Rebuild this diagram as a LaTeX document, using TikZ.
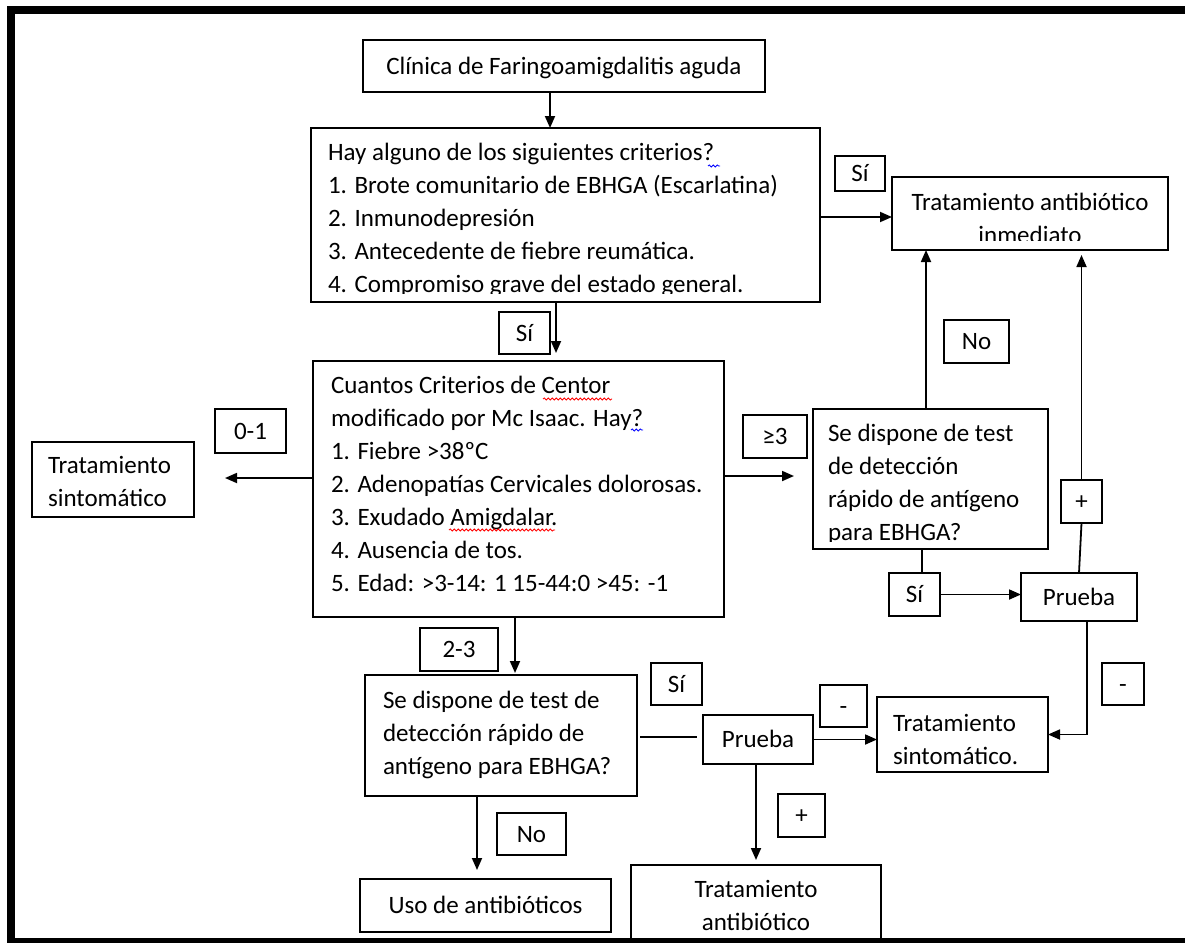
\documentclass[tikz,border=0pt]{standalone}
\usepackage{fontspec}
\setmainfont{Carlito}
\usetikzlibrary{arrows.meta,fit,decorations.pathmorphing}

\begin{document}
\begin{tikzpicture}[x=1pt,y=-1pt,
  every node/.style={font=\fontsize{25}{33}\selectfont},
  box/.style={draw,line width=1.9pt,inner sep=0pt,outer sep=0pt},
  lbl/.style={box,text height=18pt,text depth=2pt},
  tx/.style={inner sep=0pt,outer sep=0pt},
  arr/.style={line width=1.8pt,-{Triangle[length=12pt,width=10pt]}},
  ln/.style={line width=1.8pt},
  squig/.style={line width=0.8pt,decorate,decoration={snake,amplitude=1.1pt,segment length=4pt}}
]
\useasboundingbox[fill=white] (0,0) rectangle (1185,943);

% ---------- boxes ----------
\node[lbl,minimum width=402pt,minimum height=52pt] (clin) at (564,66) {Clínica de Faringoamigdalitis aguda};

\node[box,fit={(311,128)(820,302)}] (hay) {};
\begin{scope}
\clip (311,128) rectangle (820,293);
\node[tx,anchor=base west] (hayt) at (328,160) {\begin{tabular}[t]{@{}l@{}}Hay alguno de los siguientes criterios?\\1. Brote comunitario de EBHGA (Escarlatina)\\2. Inmunodepresión\\3. Antecedente de fiebre reumática.\\4. Compromiso grave del estado general.\end{tabular}};
\end{scope}

\node[lbl,minimum width=50pt,minimum height=35pt] (s1) at (860,173.5) {Sí};

\node[box,fit={(892,177)(1168,250)}] (tai) {};
\begin{scope}
\clip (892,177) rectangle (1168,240);
\node[tx,anchor=base] (tait) at (1030,210) {\begin{tabular}[t]{@{}c@{}}Tratamiento antibiótico\\inmediato\end{tabular}};
\end{scope}

\node[lbl,minimum width=51pt,minimum height=42pt] (s2) at (524.5,333) {Sí};

\node[box,fit={(313,361)(724,617)}] (cua) {};
\node[tx,anchor=base west] (cuat) at (331,393) {\begin{tabular}[t]{@{}l@{}}Cuantos Criterios de Centor\\modificado por Mc Isaac. Hay?\\1. Fiebre >38ºC\\2. Adenopatías Cervicales dolorosas.\\3. Exudado Amigdalar.\\4. Ausencia de tos.\\5. Edad: >3-14: 1 15-44:0 >45: -1\end{tabular}};

\node[box,fit={(32,442)(194,517)}] (ts1) {};
\node[tx,anchor=base west] (ts1t) at (48,473) {\begin{tabular}[t]{@{}l@{}}Tratamiento\\sintomático\end{tabular}};

\node[lbl,minimum width=71pt,minimum height=44pt] (z01) at (250.5,431) {0-1};
\node[lbl,minimum width=64pt,minimum height=43pt] (ge3) at (775,436.5) {≥3};

\node[box,fit={(813,409)(1048,549)}] (sd1) {};
\begin{scope}
\clip (813,409) rectangle (1048,541);
\node[tx,anchor=base west] (sd1t) at (828,441) {\begin{tabular}[t]{@{}l@{}}Se dispone de test\\de detección\\rápido de antígeno\\para EBHGA?\end{tabular}};
\end{scope}

\node[lbl,minimum width=65pt,minimum height=43pt] (no1) at (976.5,341.5) {No};
\node[lbl,minimum width=51pt,minimum height=43pt] (si3) at (914.5,594.5) {Sí};
\node[lbl,minimum width=116pt,minimum height=48pt] (pr1) at (1079,597) {Prueba};
\node[lbl,minimum width=41pt,minimum height=43pt] (plus1) at (1081.5,501.5) {+};
\node[lbl,minimum width=42pt,minimum height=42pt] (min1) at (1123,684) {-};

\node[box,fit={(877,697)(1048,772)}] (ts2) {};
\node[tx,anchor=base west] (ts2t) at (893,731) {\begin{tabular}[t]{@{}l@{}}Tratamiento\\sintomático.\end{tabular}};

\node[lbl,minimum width=78pt,minimum height=43pt] (t23) at (459,649.5) {2-3};

\node[box,fit={(365,675)(637,796)}] (sd2) {};
\node[tx,anchor=base west] (sd2t) at (383,708) {\begin{tabular}[t]{@{}l@{}}Se dispone de test de\\detección rápido de\\antígeno para EBHGA?\end{tabular}};

\node[lbl,minimum width=51pt,minimum height=42pt] (si4) at (676.5,684) {Sí};
\node[lbl,minimum width=110pt,minimum height=49pt] (pr2) at (758,739.5) {Prueba};
\node[lbl,minimum width=47pt,minimum height=42pt] (min2) at (843.5,706) {-};
\node[lbl,minimum width=47pt,minimum height=43pt] (plus2) at (801.5,815.5) {+};

\node[box,fit={(631,865)(881,940)}] (ta) {};
\node[tx,anchor=base] (tat) at (756,897) {\begin{tabular}[t]{@{}c@{}}Tratamiento\\antibiótico\end{tabular}};

\node[lbl,minimum width=69pt,minimum height=42pt] (no2) at (531.5,834) {No};
\node[lbl,minimum width=251pt,minimum height=53pt] (uso) at (485.5,905.5) {Uso de antibióticos};

% ---------- connectors ----------
\draw[arr] ([xshift=-14pt]clin.south) -- ([xshift=-14pt]clin.south |- hay.north);
\draw[arr] ([yshift=-2pt]hay.east) -- ([yshift=-2pt]hay.east -| tai.west);
\draw[arr,shorten >=8pt] ([xshift=-9.5pt]hay.south) -- ([xshift=-9.5pt]hay.south |- cua.north);
\draw[arr,shorten >=31pt] ([yshift=11pt]cua.west) -- ([yshift=11pt]cua.west -| ts1.east);
\draw[arr,shorten >=19pt] ([yshift=13pt]cua.east) -- ([yshift=13pt]cua.east -| sd1.west);
\draw[arr,shorten >=2pt] ([xshift=-3.5pt]cua.south) -- ([xshift=-3.5pt]cua.south |- sd2.north);
\draw[arr] ([xshift=-4.5pt]sd1.north) -- ([xshift=-4.5pt]sd1.north |- tai.south);
\draw[ln] ([xshift=-8.5pt]sd1.south) -- ([xshift=-8.5pt]sd1.south |- si3.north);
\draw[arr] (si3.east) -- (si3.east -| pr1.west);
\draw[ln] (pr1.north) -- (plus1.south);
\draw[arr,shorten >=5pt] (plus1.north) -- (plus1.north |- tai.south);
\draw[arr] ([xshift=8pt]pr1.south) |- (ts2.east);
\draw[ln,shorten <=3pt,shorten >=6pt] ([yshift=-1.5pt]sd2.east) -- ([yshift=-1.5pt]sd2.east -| pr2.west);
\draw[arr] (pr2.east) -- (pr2.east -| ts2.west);
\draw[arr,shorten >=5pt] ([xshift=-2pt]pr2.south) -- ([xshift=-2pt]pr2.south |- ta.north);
\draw[arr,shorten >=9pt] ([xshift=-24pt]sd2.south) -- ([xshift=-24pt]sd2.south |- uso.north);

% ---------- spell-check marks ----------
\draw[squig,red] (543,399) -- (612,399);
\draw[squig,red] (449,530) -- (555,530);
\draw[squig,blue] (631,430) -- (643,430);
\draw[squig,blue] (708,166) -- (720,166);

% ---------- frame ----------
\fill (7,6) rectangle (1185,14);
\fill (7,6) rectangle (15,943);
\fill (7,937.5) rectangle (1185,943);
\end{tikzpicture}
\end{document}
